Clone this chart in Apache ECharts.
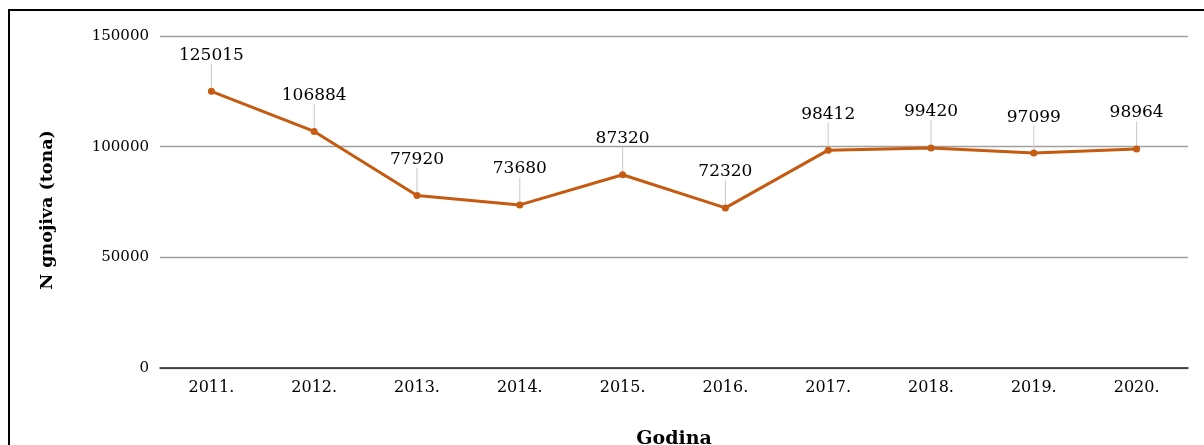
<!DOCTYPE html>
<html>
<head>
<meta charset="utf-8">
<script src="https://cdn.jsdelivr.net/npm/echarts@6/dist/echarts.min.js"></script>
<style>
  html,body{margin:0;padding:0;background:#fff;overflow:hidden;}
  #chart{position:absolute;left:0;top:0;width:1204px;height:445px;}
  #frame{position:absolute;left:8px;top:9px;width:1300px;height:600px;border:2px solid #000;pointer-events:none;}
</style>
</head>
<body>
<div id="chart"></div>
<div id="frame"></div>
<script>
// podaci
const years = ["2011.","2012.","2013.","2014.","2015.","2016.","2017.","2018.","2019.","2020."];
const nFert = [125015,106884,77920,73680,87320,72320,98412,99420,97099,98964];
const yTicks = {min:0,max:150000,step:50000};

const font = "'DejaVu Serif', 'Liberation Serif', serif";
const lineColor = "#c55a11";

const chart = echarts.init(document.getElementById("chart"));

chart.setOption({
  animation:false,
  textStyle:{fontFamily:font},
  grid:{left:160,right:16,top:36,bottom:77,containLabel:false,outerBoundsMode:"none"},
  xAxis:{
    type:"category",
    data:years,
    boundaryGap:true,
    name:"Godina",
    nameLocation:"middle",
    nameGap:62,
    nameTextStyle:{fontFamily:font,fontSize:19,fontWeight:"bold",color:"#000"},
    axisLine:{lineStyle:{color:"#222",width:1.5}},
    axisTick:{show:false},
    axisLabel:{fontFamily:font,fontSize:16,color:"#000",margin:12}
  },
  yAxis:{
    type:"value",
    min:yTicks.min,
    max:yTicks.max,
    interval:yTicks.step,
    name:"N gnojiva (tona)",
    nameLocation:"middle",
    nameGap:104,
    nameRotate:90,
    nameTextStyle:{fontFamily:font,fontSize:17.5,fontWeight:"bold",color:"#000",padding:[0,16,0,0]},
    axisLine:{show:false},
    axisTick:{show:false},
    axisLabel:{fontFamily:font,fontSize:15,color:"#000",margin:11,formatter:v=>String(v)},
    splitLine:{lineStyle:{color:"#a0a0a0",width:1.3}}
  },
  series:[{
    type:"line",
    data:nFert,
    symbol:"circle",
    symbolSize:7,
    lineStyle:{color:lineColor,width:3},
    itemStyle:{color:lineColor},
    label:{
      show:true,
      position:"top",
      distance:4,
      fontFamily:font,
      fontSize:17,
      color:"#000"
    },
    labelLayout:{dy:-20},
    labelLine:{show:true,lineStyle:{color:"#d0d0d0",width:1.2}}
  }]
});
</script>
</body>
</html>
